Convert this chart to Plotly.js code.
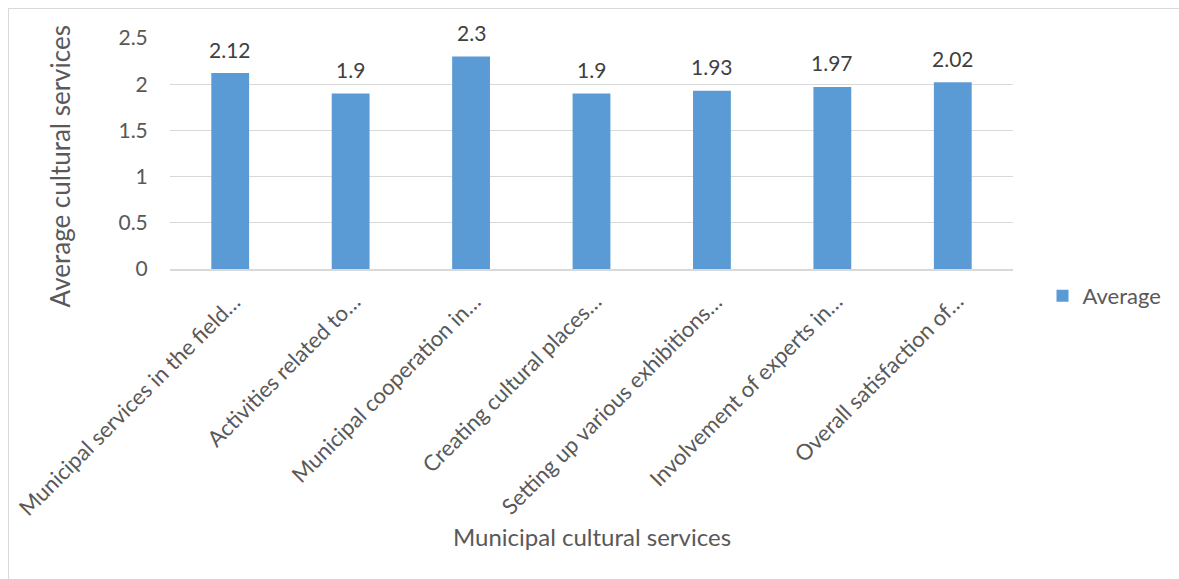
<!DOCTYPE html>
<html>
<head>
<meta charset="utf-8">
<script src="https://cdn.plot.ly/plotly-3.0.1.min.js"></script>
<style>
  html, body { margin: 0; padding: 0; background: #fff; }
  #wrap { position: relative; width: 1179px; height: 579px; overflow: hidden; }
  #chart { position: absolute; left: 0; top: 0; width: 1179px; height: 579px; }
  #frame { position: absolute; left: 8px; top: 8px; width: 1200px; height: 600px; border: 1px solid #d9d9d9; box-sizing: border-box; pointer-events: none; }
</style>
</head>
<body>
<div id="wrap">
  <div id="chart"></div>
  <div id="frame"></div>
</div>
<script>
const categories = [
  "Municipal services in the field…",
  "Activities related to…",
  "Municipal cooperation in…",
  "Creating cultural places…",
  "Setting up various exhibitions…",
  "Involvement of experts in…",
  "Overall satisfaction of…"
];
const averageValues = [2.12, 1.9, 2.3, 1.9, 1.93, 1.97, 2.02];
const valueLabels = ["2.12", "1.9", "2.3", "1.9", "1.93", "1.97", "2.02"];
const seriesName = "Average";
const xTitle = "Municipal cultural services";
const yTitle = "Average cultural services";
const yTickValues = [0, 0.5, 1, 1.5, 2, 2.5];
const yTickLabels = ["0", "0.5", "1", "1.5", "2", "2.5"];

const FONT = "Lato, 'Open Sans', sans-serif";
const GRAY = "#595959";

const trace = {
  type: "bar",
  x: categories,
  y: averageValues,
  name: seriesName,
  marker: { color: "#5b9bd5" },
  showlegend: true,
  hoverinfo: "x+y"
};

const valueAnnotations = categories.map((c, i) => ({
  x: c,
  y: averageValues[i],
  xref: "x",
  yref: "y",
  text: valueLabels[i],
  showarrow: false,
  yanchor: "middle",
  yshift: 24,
  font: { family: FONT, size: 21, color: "#404040" }
}));

// category labels drawn at each category position on the axis (rotated)
const categoryAnnotations = categories.map((c) => ({
  x: c,
  y: 0,
  xref: "x",
  yref: "y",
  text: c,
  showarrow: false,
  textangle: -45,
  xanchor: "right",
  yanchor: "top",
  xshift: 18,
  yshift: -16,
  font: { family: FONT, size: 22, color: GRAY }
}));

const titleAnnotations = [
  {
    xref: "paper", yref: "paper",
    x: 0.5, y: -1.156,
    xanchor: "center", yanchor: "middle",
    text: xTitle, showarrow: false,
    font: { family: FONT, size: 24, color: GRAY }
  },
  {
    xref: "paper", yref: "paper",
    x: -0.13, y: 0.446,
    xanchor: "center", yanchor: "middle",
    textangle: -90,
    text: yTitle, showarrow: false,
    font: { family: FONT, size: 26, color: GRAY }
  }
];

const layout = {
  width: 1179,
  height: 579,
  margin: { l: 170, r: 162, t: 38, b: 310 },
  paper_bgcolor: "#ffffff",
  plot_bgcolor: "#ffffff",
  bargap: 0.686,
  font: { family: FONT, color: GRAY, size: 18 },
  showlegend: true,
  legend: {
    x: 1.035, xanchor: "left",
    y: -0.117, yanchor: "middle",
    font: { family: FONT, size: 22, color: GRAY },
    itemwidth: 30,
    bgcolor: "rgba(0,0,0,0)"
  },
  annotations: valueAnnotations.concat(categoryAnnotations, titleAnnotations),
  xaxis: {
    type: "category",
    categoryorder: "array",
    categoryarray: categories,
    range: [-0.5, categories.length - 0.5],
    autorange: false,
    showticklabels: false,
    showline: true,
    linecolor: "#d9d9d9",
    linewidth: 2,
    ticks: "",
    showgrid: false,
    automargin: false
  },
  yaxis: {
    range: [0, 2.5],
    autorange: false,
    tickvals: yTickValues,
    ticktext: yTickLabels,
    tickfont: { family: FONT, size: 21, color: GRAY },
    showgrid: true,
    gridcolor: "#d9d9d9",
    gridwidth: 1,
    zeroline: false,
    showline: false,
    ticks: "outside",
    ticklen: 17,
    tickcolor: "rgba(0,0,0,0)",
    automargin: false
  }
};

Plotly.newPlot("chart", [trace], layout, { displayModeBar: false });
</script>
</body>
</html>
